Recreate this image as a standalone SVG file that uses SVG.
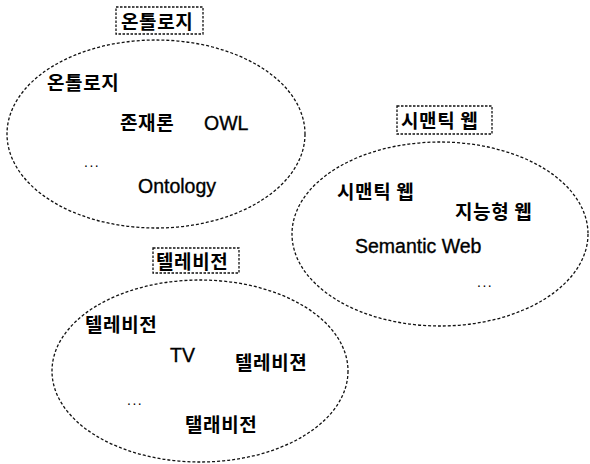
<svg xmlns="http://www.w3.org/2000/svg" width="590" height="464" viewBox="0 0 590 464">
<style>
.ell{fill:none;stroke:#111;stroke-width:1.3;stroke-dasharray:3 2}
.box{fill:none;stroke:#111;stroke-width:1.3;stroke-dasharray:2.5 1.5}
.ko{font-family:"Noto Sans CJK KR","Noto Sans",sans-serif;font-size:19px;letter-spacing:0.6px;font-weight:700;fill:#000}
.en{font-family:"Liberation Sans",Arial,sans-serif;font-size:19.5px;fill:#000;stroke:#000;stroke-width:0.35}
.dots{font-family:"Liberation Sans",Arial,sans-serif;font-size:14px;letter-spacing:1.5px;fill:#000}
</style>
<rect width="590" height="464" fill="#fff"/>
<g id="ontology">
<rect class="box" x="116" y="7" width="87" height="27"/>
<text class="ko" x="121" y="29">온톨로지</text>
<ellipse class="ell" cx="156" cy="134" rx="149" ry="94"/>
<text class="ko" x="47" y="90">온톨로지</text>
<text class="ko" x="120" y="130">존재론</text>
<text class="en" x="204" y="130">OWL</text>
<text class="dots" x="84" y="167">...</text>
<text class="en" x="138" y="193">Ontology</text>
</g>
<g id="semantic-web">
<rect class="box" x="397" y="106" width="95" height="28"/>
<text class="ko" x="401" y="128">시맨틱 웹</text>
<ellipse class="ell" cx="440" cy="234" rx="148" ry="92"/>
<text class="ko" x="337" y="199">시맨틱 웹</text>
<text class="ko" x="455" y="219">지능형 웹</text>
<text class="en" x="355" y="253">Semantic Web</text>
<text class="dots" x="477" y="287">...</text>
</g>
<g id="television">
<rect class="box" x="153" y="248" width="86" height="25"/>
<text class="ko" x="156" y="269">텔레비전</text>
<ellipse class="ell" cx="200" cy="371" rx="148" ry="91"/>
<text class="ko" x="85" y="332">텔레비전</text>
<text class="en" x="170" y="362">TV</text>
<text class="ko" x="235" y="370">텔레비젼</text>
<text class="dots" x="127" y="405">...</text>
<text class="ko" x="185" y="432">탤래비전</text>
</g>
<g id="connectors"/>
</svg>
